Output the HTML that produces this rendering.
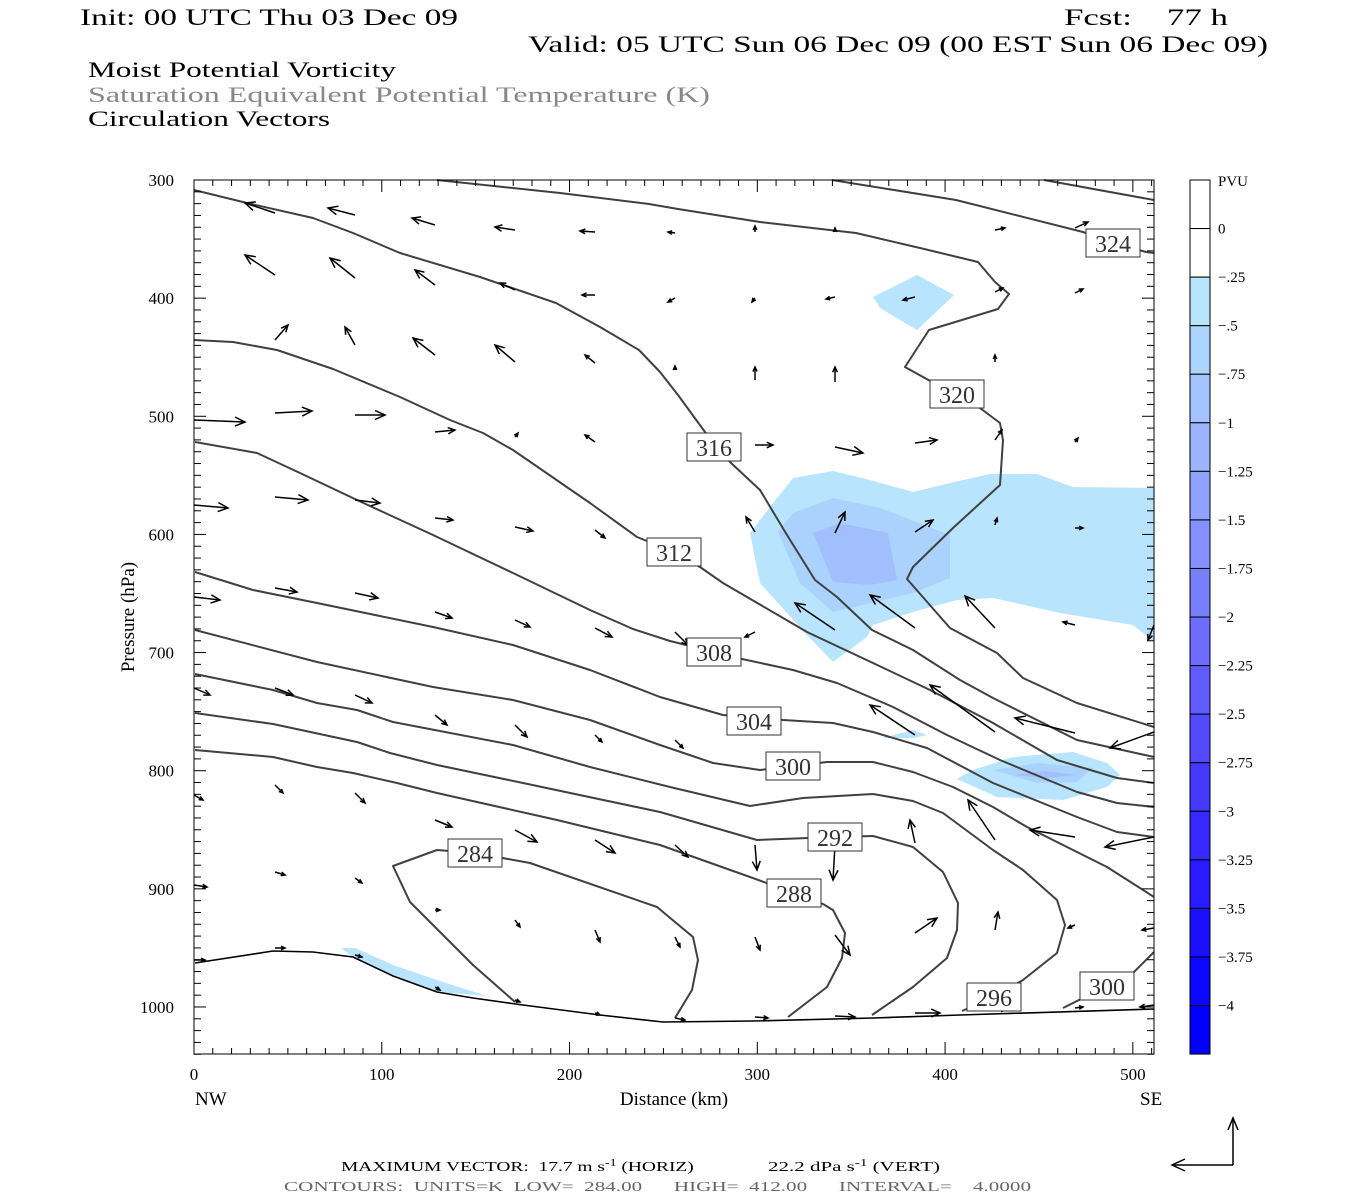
<!DOCTYPE html>
<html><head><meta charset="utf-8"><style>
html,body{margin:0;padding:0;background:#fff;width:1350px;height:1200px;overflow:hidden}
svg text{font-family:"Liberation Serif",serif}
</style></head><body>
<svg id="s" width="1350" height="1200" xmlns="http://www.w3.org/2000/svg">
<g font-size="23">
<text x="80" y="25" textLength="378" lengthAdjust="spacingAndGlyphs">Init: 00 UTC Thu 03 Dec 09</text>
<text x="1064" y="25" textLength="164" lengthAdjust="spacingAndGlyphs" xml:space="preserve">Fcst:    77 h</text>
<text x="528" y="52" textLength="740" lengthAdjust="spacingAndGlyphs">Valid: 05 UTC Sun 06 Dec 09 (00 EST Sun 06 Dec 09)</text>
</g>
<g font-size="22">
<text x="88" y="77" textLength="308" lengthAdjust="spacingAndGlyphs">Moist Potential Vorticity</text>
<text x="88" y="102" fill="#888" textLength="622" lengthAdjust="spacingAndGlyphs">Saturation Equivalent Potential Temperature (K)</text>
<text x="88" y="126" textLength="242" lengthAdjust="spacingAndGlyphs">Circulation Vectors</text>
</g>
<g id="shade" stroke="none">
<polygon fill="#b8e4fd" points="750,533 770,507 793,478 833,471 870,480 913,492 950,483 990,474 1037,474 1073,487 1154,488 1154,642 1133,625 1060,613 993,598 957,600 913,612 873,625 867,637 833,662 807,635 760,583"/>
<polygon fill="#abd2fd" points="778,532 793,513 833,498 880,508 950,535 950,578 913,593 833,612 800,583"/>
<polygon fill="#a2bffd" points="813,533 840,523 888,533 897,580 870,585 833,582"/>
<polygon fill="#b8e4fd" points="957,779 973,770 1013,757 1073,752 1107,763 1120,775 1107,787 1063,800 997,797"/>
<polygon fill="#abd2fd" points="993,770 1037,763 1093,768 1077,782 1037,783"/>
<polygon fill="#a2bffd" points="1013,775 1045,771 1077,775 1045,778"/>
<polygon fill="#b8e4fd" points="882,738 913,730 927,735 913,738"/>
<polygon fill="#b8e4fd" points="873,297 917,275 954,295 917,330 880,308"/>
<polygon fill="#b8e4fd" points="341,948 355,948 393,965 437,980 487,996 437,992 393,976 353,957"/>
</g>
<g id="cont" fill="none" stroke="#404040" stroke-width="2" stroke-linejoin="round"></g>
<polyline fill="none" stroke="#000" stroke-width="1.6" points="195,963 273,951 313,952 353,957 393,976 437,992 473,998 523,1005 600,1015 663,1022 753,1021 873,1018 960,1015 1154,1009"/>
<g id="arr" stroke="#000" stroke-width="1.5" fill="none"></g>
<g id="labs"></g>
<rect x="194" y="180" width="960" height="874" fill="none" stroke="#000" stroke-width="1"/>
<g id="ticks" stroke="#000" stroke-width="1"></g>
<g id="axl" font-size="17"></g>
<text x="674" y="1105" font-size="19" text-anchor="middle">Distance (km)</text>
<text x="195" y="1105" font-size="19">NW</text>
<text x="1140" y="1105" font-size="19">SE</text>
<text transform="translate(134,617) rotate(-90)" font-size="19" text-anchor="middle">Pressure (hPa)</text>
<g id="cb"></g>
<text transform="translate(341,1171) scale(1.39,1)" font-size="14" xml:space="preserve">MAXIMUM VECTOR:  17.7 m s<tspan font-size="10" dy="-5">-1</tspan><tspan dy="5"> (HORIZ)</tspan></text>
<text transform="translate(768,1171) scale(1.5,1)" font-size="14" xml:space="preserve">22.2 dPa s<tspan font-size="10" dy="-5">-1</tspan><tspan dy="5"> (VERT)</tspan></text>
<text x="284" y="1191" font-size="14" fill="#666" textLength="747" lengthAdjust="spacingAndGlyphs" xml:space="preserve">CONTOURS:  UNITS=K  LOW=  284.00      HIGH=  412.00      INTERVAL=    4.0000</text>
<g stroke="#000" stroke-width="1.5" fill="none">
<polyline points="1233,1165 1172,1165"/><polyline points="1185,1159 1172,1165 1185,1171"/>
<polyline points="1233,1165 1233,1118"/><polyline points="1228,1130 1233,1118 1238,1130"/>
</g>
</svg>
<script>
var NS="http://www.w3.org/2000/svg";
function el(p,t,a,txt){var e=document.createElementNS(NS,t);for(var k in a)e.setAttribute(k,a[k]);if(txt!==undefined)e.textContent=txt;document.getElementById(p).appendChild(e);return e;}
var C=[
"194,190 247,203 313,218 353,233 400,253 480,277 556,303 600,327 639,350 660,372 678,395 705,432 730,462 760,490 787,535 815,580 837,597 872,630 913,650 960,680 993,698 1077,740 1154,757",
"194,340 233,342 277,350 333,369 400,397 450,420 483,433 513,450 590,503 637,537 674,552 700,567 723,583 807,632 873,663 930,690 993,723 1057,760 1117,778 1154,783",
"195,442 257,453 300,473 357,500 433,535 513,573 590,610 633,629 670,641 714,652 742,659 793,670 837,683 893,707 947,735 1000,760 1077,792 1117,803 1154,807",
"195,572 253,590 317,603 433,627 513,645 590,670 660,697 723,715 783,720 833,723 873,732 927,748 993,783 1077,817 1117,832 1154,837",
"195,630 317,662 433,687 513,700 590,720 660,745 713,763 760,770 827,762 873,762 913,772 953,787 993,807 1027,827 1107,867 1154,897",
"195,674 273,690 317,703 357,710 393,722 513,745 590,767 670,787 750,806 803,798 873,794 913,801 943,813 993,850 1023,870 1057,900 1065,925 1057,953 1023,980 994,997 962,1011",
"195,713 273,724 357,742 390,753 437,765 523,783 660,812 757,840 835,837 873,836 913,847 943,872 958,903 957,930 947,958 913,987 872,1015",
"195,750 273,757 317,767 353,773 397,783 437,793 477,802 557,820 660,845 750,877 794,893 823,904 833,910 845,933 842,958 827,987 788,1017",
"515,1002 473,965 410,902 393,866 437,850 475,853 530,863 657,907 693,937 698,960 692,990 675,1018",
"1063,1008 1079,1000 1107,986 1134,972 1154,952",
"437,180 560,193 649,204 678,209 760,222 856,233 920,248 978,262 995,282 1009,294 998,309 929,330 905,367 932,382 957,394 980,408 1000,423 1003,440 1000,485 953,528 913,567 907,579 950,628 997,653 1023,678 1077,703 1154,727",
"832,180 956,200 1083,232 1113,243 1146,252 1154,253",
"1044,180 1154,200"];
C.forEach(function(p){el("cont","polyline",{points:p});});
var L=[[714,447,"316"],[674,552,"312"],[714,652,"308"],[754,721,"304"],[793,766,"300"],[835,837,"292"],[794,893,"288"],[475,853,"284"],[994,997,"296"],[1107,986,"300"],[957,394,"320"],[1113,243,"324"]];
L.forEach(function(l){el("labs","rect",{x:l[0]-27,y:l[1]-14,width:54,height:28,fill:"#fff",stroke:"#333","stroke-width":1});
el("labs","text",{x:l[0],y:l[1]+9,"font-size":"24","text-anchor":"middle",fill:"#333"},l[2]);});
var A=[
[275,213,245,203],[355,215,328,208],[435,225,412,218],[515,230,495,227],[595,232,580,231],[675,233,668,232],[755,232,755,226],[835,232,835,228],[995,230,1005,228],[1075,228,1088,222],
[275,275,245,255],[355,278,330,258],[435,285,415,270],[515,290,500,283],[595,295,582,295],[675,298,668,302],[755,298,752,302],[835,297,826,299],[915,297,903,300],[995,292,1003,288],[1075,293,1083,289],
[275,340,288,325],[355,345,345,327],[435,355,413,338],[515,362,495,345],[595,363,585,355],[675,370,675,366],[755,380,755,367],[835,382,835,367],[995,362,995,355],
[194,420,245,422],[275,413,312,411],[355,415,385,415],[435,432,455,430],[515,437,518,433],[595,442,585,435],[755,445,773,445],[835,447,863,453],[915,443,937,440],[995,440,1002,430],[1075,442,1078,438],
[194,505,228,508],[275,497,308,500],[355,500,380,503],[435,518,453,520],[515,527,533,531],[595,530,605,538],[755,532,746,517],[835,533,845,512],[915,532,933,520],[995,525,997,518],[1075,528,1083,528],
[194,597,220,600],[275,588,297,592],[355,593,378,598],[435,612,452,618],[515,620,530,627],[595,628,612,637],[675,632,688,645],[755,632,745,637],[835,630,795,603],[915,628,870,595],[995,628,965,596],[1075,625,1063,622],[1154,625,1148,640],
[194,688,210,695],[275,688,293,695],[355,695,372,703],[435,715,447,725],[515,725,527,737],[595,735,602,742],[675,740,683,748],[915,735,870,705],[995,732,930,685],[1075,733,1015,718],[1154,732,1110,748],
[194,795,203,800],[275,785,283,793],[355,793,365,803],[435,820,452,827],[515,830,537,842],[595,840,615,853],[675,845,688,857],[755,845,757,870],[835,845,833,880],[915,843,910,820],[995,840,968,800],[1075,837,1030,830],[1154,837,1105,847],
[194,885,207,887],[275,872,285,875],[355,878,362,883],[435,910,440,910],[515,920,520,927],[595,930,600,942],[675,937,680,947],[755,937,760,950],[835,935,850,955],[915,933,937,918],[995,930,998,912],[1075,925,1068,928],[1154,928,1142,930],
[194,960,205,960],[275,948,285,948],[355,955,362,957],[435,987,440,990],[515,1000,520,1002],[595,1013,600,1015],[675,1018,685,1020],[755,1017,768,1018],[835,1016,855,1017],[915,1013,940,1013],[995,1010,1005,1010],[1075,1008,1083,1007],[1154,1005,1140,1007]];
A.forEach(function(a){var dx=a[2]-a[0],dy=a[3]-a[1],l=Math.sqrt(dx*dx+dy*dy);if(l<1)l=1;var ux=dx/l,uy=dy/l,h=Math.min(10,Math.max(4,l*0.35)),w=h*0.45;
el("arr","line",{x1:a[0],y1:a[1],x2:a[2],y2:a[3]});
el("arr","polyline",{points:(a[2]-ux*h-uy*w)+","+(a[3]-uy*h+ux*w)+" "+a[2]+","+a[3]+" "+(a[2]-ux*h+uy*w)+","+(a[3]-uy*h-ux*w)});});
for(var p=300;p<=1040;p+=10){var y=180+(p-300)*1.1814;var m=(p%100==0);
el("ticks","line",{x1:194,y1:y,x2:194+(m?12:7),y2:y});el("ticks","line",{x1:1154,y1:y,x2:1154-(m?12:7),y2:y});
if(m)el("axl","text",{x:174,y:y+6,"text-anchor":"end"},String(p));}
for(var d=0;d<=510;d+=10){var x=194+d*1.8777;var m=(d%100==0);
el("ticks","line",{x1:x,y1:180,x2:x,y2:180+(m?12:6)});el("ticks","line",{x1:x,y1:1054,x2:x,y2:1054-(m?12:6)});
if(m)el("axl","text",{x:x,y:1080,"text-anchor":"middle"},String(d));}
var cols=["#ffffff","#ffffff","#b9e4ff","#add3ff","#a4c2ff","#9db3ff","#90a2ff","#8490ff","#787fff","#6c6dff","#605bff","#534aff","#4539ff","#3629ff","#281bff","#1a10ff","#0c06ff","#0000ff"];
var labsC=["0","-.25","-.5","-.75","-1","-1.25","-1.5","-1.75","-2","-2.25","-2.5","-2.75","-3","-3.25","-3.5","-3.75","-4"];
for(var i=0;i<18;i++){var y0=180+i*48.56;el("cb","rect",{x:1190,y:y0,width:20,height:48.56,fill:cols[i],stroke:"#000","stroke-width":1});}
el("cb","text",{x:1218,y:186,"font-size":"15"},"PVU");
labsC.forEach(function(t,i){var y=180+(i+1)*48.56;el("cb","text",{x:1218,y:y+5,"font-size":"15"},t.replace("-","\u2212"));});
</script>
</body></html>
